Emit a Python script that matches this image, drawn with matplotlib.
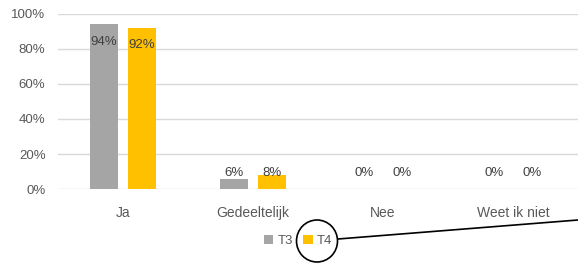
import numpy as np
import matplotlib
matplotlib.use("Agg")
import matplotlib.pyplot as plt
from matplotlib.patches import Ellipse
from matplotlib.lines import Line2D

categories = ["Ja", "Gedeeltelijk", "Nee", "Weet ik niet"]
t3 = [94, 6, 0, 0]
t4 = [92, 8, 0, 0]
series_names = ["T3", "T4"]
colors = ["#A5A5A5", "#FFC000"]
yticks = [0, 20, 40, 60, 80, 100]

plt.rcParams["font.family"] = ["Liberation Sans", "DejaVu Sans"]
txt = "#595959"

fig = plt.figure(figsize=(5.78, 2.67), dpi=100)
ax = fig.add_axes([0.1003, 0.292, 0.8997, 0.656])

x = np.arange(len(categories))
w = 0.22
off = 0.145
for vals, name, col, sgn in [(t3, series_names[0], colors[0], -1), (t4, series_names[1], colors[1], 1)]:
    ax.bar(x + sgn * off, vals, width=w, color=col, label=name, zorder=3)
    for xi, v in zip(x + sgn * off, vals):
        ypos = v - 10 if v > 20 else 9
        ax.text(xi, ypos, f"{v}%", ha="center", va="center", fontsize=9.5, color="#404040", zorder=4)

ax.set_xlim(-0.5, len(categories) - 0.5)
ax.set_ylim(0, 100)
ax.set_yticks(yticks)
ax.set_yticklabels([f"{t}%" for t in yticks], fontsize=9.5, color=txt)
ax.set_xticks(x)
ax.set_xticklabels(categories, fontsize=10, color=txt)
ax.tick_params(axis="both", length=0)
ax.tick_params(axis="y", pad=9)
ax.tick_params(axis="x", pad=12)
ax.grid(axis="y", color="#D9D9D9", linewidth=1, zorder=0)
for s in ax.spines.values():
    s.set_visible(False)

ax.legend(loc="center", bbox_to_anchor=(298 / 578, 1 - 241 / 267), bbox_transform=fig.transFigure,
          ncol=2, frameon=False, fontsize=9.5, handlelength=0.7, handleheight=0.7,
          handletextpad=0.3, columnspacing=0.8, labelcolor=txt)

# hand drawn circle + line
ell = Ellipse((3.17, (267 - 241) / 100), 0.41, 0.42, transform=fig.dpi_scale_trans,
              fill=False, edgecolor="black", linewidth=1.2)
fig.patches.append(ell)
fig.lines.append(Line2D([3.38, 5.78], [(267 - 239) / 100, (267 - 220) / 100],
                        transform=fig.dpi_scale_trans, color="black", linewidth=1.2))

fig.savefig("out.png", dpi=100)
